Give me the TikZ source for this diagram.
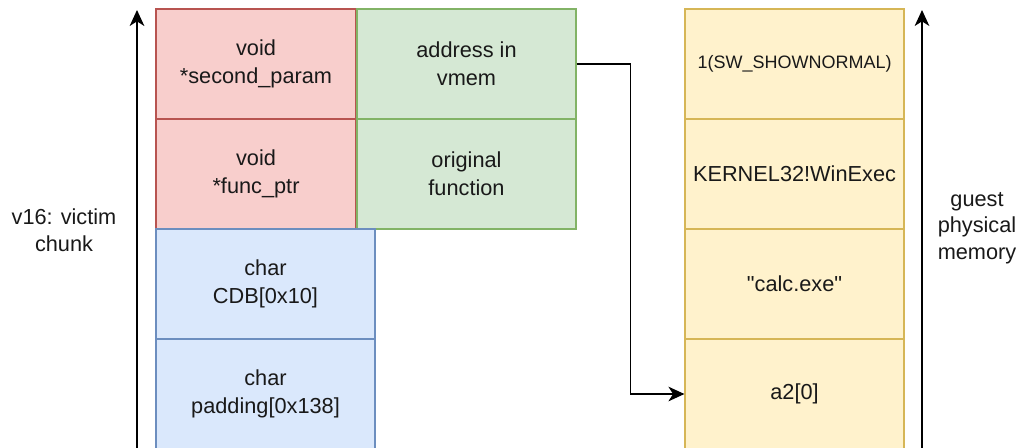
\documentclass[tikz,border=0pt]{standalone}
\usepackage{fontspec}
\setmainfont{Liberation Sans}[Ligatures=TeXOff]
\usetikzlibrary{arrows.meta,positioning}
\definecolor{ptrfill}{HTML}{F8CECC}
\definecolor{ptrline}{HTML}{B85450}
\definecolor{valfill}{HTML}{D5E8D4}
\definecolor{valline}{HTML}{82B366}
\definecolor{buffill}{HTML}{DAE8FC}
\definecolor{bufline}{HTML}{6C8EBF}
\definecolor{memfill}{HTML}{FFF2CC}
\definecolor{memline}{HTML}{D6B656}
\tikzset{
  cell/.style={draw, line width=0.9pt, minimum width=164.25pt, minimum height=82.5pt,
    inner sep=0pt, align=center, font=\fontsize{16.3}{21}\selectfont, text=black!90},
  ptrcell/.style={cell, fill=ptrfill, draw=ptrline, minimum width=150pt},
  valcell/.style={cell, fill=valfill, draw=valline},
  bufcell/.style={cell, fill=buffill, draw=bufline},
  memcell/.style={cell, fill=memfill, draw=memline},
  axis/.style={line width=0.9pt, -{Stealth[length=12pt, width=11pt, inset=3.5pt]}},
  link/.style={line width=0.9pt, -{Stealth[length=12pt, width=11pt, inset=3.5pt]}},
  caption/.style={align=center, font=\fontsize{16.3}{20}\selectfont, text=black!90}
}
\begin{document}
\begin{tikzpicture}[x=0.75pt, y=-0.75pt]
  \useasboundingbox (0,0) rectangle (1019,447);
  % victim chunk
  \node[ptrcell] (param) at (256,64) {void\\ *second\_param};
  \node[ptrcell] (func) at (256,174) {void\\ *func\_ptr};
  \node[valcell] (vmem) at (466.5,64) {address in\\ vmem};
  \node[valcell] (orig) at (466.5,174) {original\\ function};
  \node[bufcell] (cdb) at (265.5,284) {char\\ CDB[0x10]};
  \node[bufcell] (pad) at (265.5,394) {char\\ padding[0x138]};
  % guest memory
  \node[memcell, font=\fontsize{13.5}{16}\selectfont] (show) at (794.5,64) {1(SW\_SHOWNORMAL)};
  \node[memcell] (exec) at (794.5,174) {KERNEL32!WinExec};
  \node[memcell] (calc) at (794.5,284) {"calc.exe"};
  \node[memcell] (arg) at (794.5,394) {a2[0]};
  % axes
  \coordinate (lbot) at (137,460);
  \coordinate (ltop) at (137,10);
  \coordinate (rbot) at (922,460);
  \coordinate (rtop) at (922,10);
  \draw[axis] (lbot) -- (ltop);
  \draw[axis] (rbot) -- (rtop);
  \node[caption] (victim) at (64,230) {v16: victim\\ chunk};
  \node[caption] (guest) at (977,228) {guest\\ physical\\ memory};
  % pointer
  \draw[link] (vmem.east) -- ++(54,0) |- (arg.west);
\end{tikzpicture}
\end{document}
